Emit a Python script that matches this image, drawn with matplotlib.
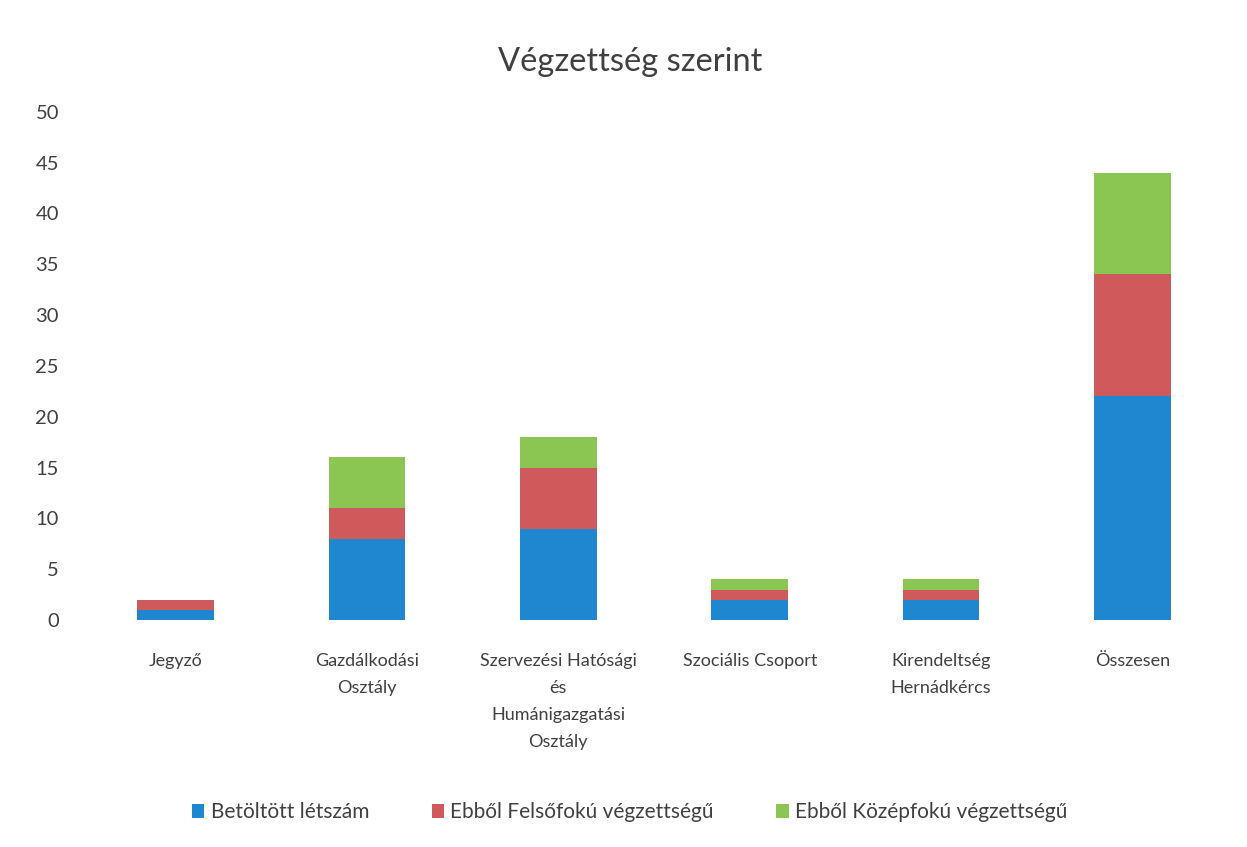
import numpy as np
import matplotlib.pyplot as plt

plt.rcParams['font.family'] = ['Lato', 'DejaVu Sans']

categories = ['Jegyző', 'Gazdálkodási\nOsztály', 'Szervezési Hatósági\nés\nHumánigazgatási\nOsztály',
              'Szociális Csoport', 'Kirendeltség\nHernádkércs', 'Összesen']
betoltott = [1, 8, 9, 2, 2, 22]
felsofoku = [1, 3, 6, 1, 1, 12]
kozepfoku = [0, 5, 3, 1, 1, 10]
series_names = ['Betöltött létszám', 'Ebből Felsőfokú végzettségű', 'Ebből Középfokú végzettségű']
colors = ['#1f87cf', '#cf5a5c', '#8cc652']

fig = plt.figure(figsize=(12.47, 8.47), dpi=100)
ax = fig.add_axes([0.064, 0.268, 0.921, 0.6])

x = np.arange(len(categories))
bottom = np.zeros(len(categories))
handles = []
for vals, name, c in zip([betoltott, felsofoku, kozepfoku], series_names, colors):
    h = ax.bar(x, vals, width=0.4, bottom=bottom, color=c, label=name)
    handles.append(h)
    bottom += np.array(vals)

ax.set_xlim(-0.5, len(categories) - 0.5)
ax.set_ylim(0, 50)
ax.set_yticks(range(0, 51, 5))
ax.set_xticks(x)
ax.set_xticklabels(categories, fontsize=13, color='#404040', linespacing=1.85)
ax.tick_params(axis='y', labelsize=14.5, labelcolor='#404040', length=0, pad=15)
ax.tick_params(axis='x', length=0, pad=24)
for s in ax.spines.values():
    s.set_visible(False)

fig.text(0.505, 0.927, 'Végzettség szerint', ha='center', va='center', fontsize=23.5,
         color='#404040')
fig.legend(handles=handles, loc='center', bbox_to_anchor=(0.505, 0.041), ncol=3, frameon=False,
           fontsize=15, handlelength=0.6, handleheight=0.6, columnspacing=3.0, handletextpad=0.3,
           labelcolor='#404040')

fig.savefig('out.png', dpi=100, facecolor='white')
